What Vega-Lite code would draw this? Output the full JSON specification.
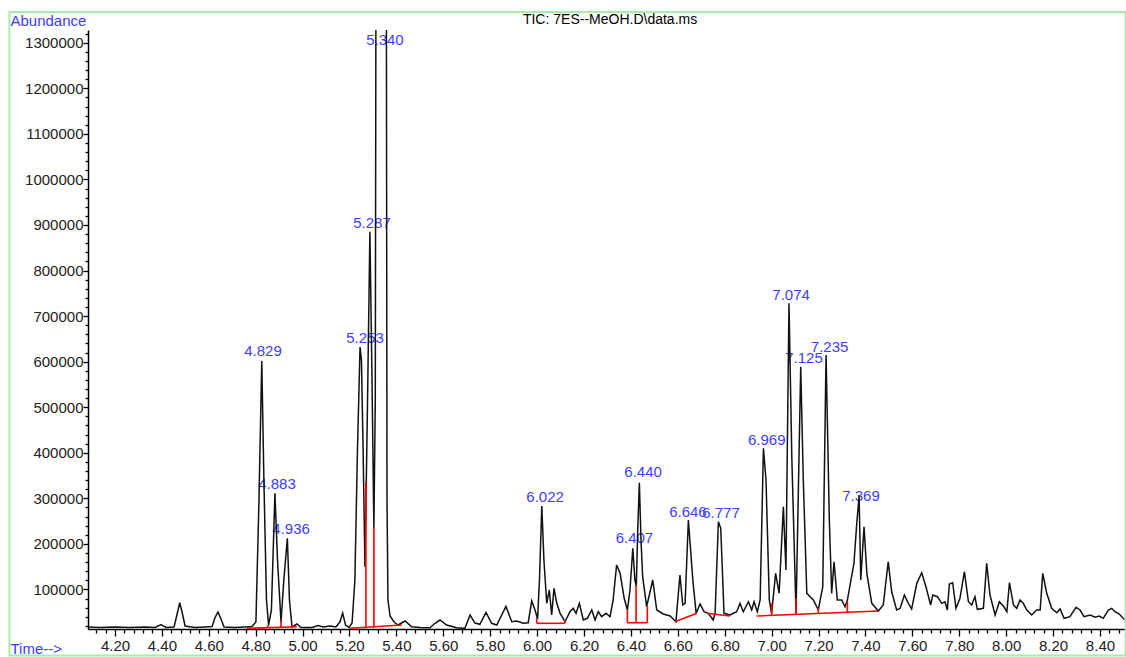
{
  "$schema": "https://vega.github.io/schema/vega-lite/v6.json",
  "autosize": {"type": "none"},
  "width": 1038,
  "height": 599,
  "padding": {"left": 88, "top": 30, "right": 0, "bottom": 28},
  "background": "#ffffff",
  "config": {"view": {"stroke": null}},
  "datasets": {
    "trace": [
      {"t":4.085,"v":17560},{"t":4.136,"v":16460},{"t":4.200,"v":17560},{"t":4.264,"v":16460},{"t":4.328,"v":17560},{"t":4.371,"v":16460},{"t":4.396,"v":23050},{"t":4.417,"v":16460},{"t":4.452,"v":17560},{"t":4.464,"v":43900},{"t":4.476,"v":70900},{"t":4.486,"v":50500},{"t":4.499,"v":19760},{"t":4.541,"v":16460},{"t":4.584,"v":17560},{"t":4.614,"v":18660},{"t":4.626,"v":37300},{"t":4.639,"v":50500},{"t":4.652,"v":35100},{"t":4.665,"v":17560},{"t":4.712,"v":16460},{"t":4.754,"v":17560},{"t":4.784,"v":18660},{"t":4.801,"v":28500},{"t":4.814,"v":296300},{"t":4.826,"v":601400},{"t":4.835,"v":340200},{"t":4.846,"v":76800},{"t":4.855,"v":21950},{"t":4.867,"v":54900},{"t":4.882,"v":311000},{"t":4.893,"v":164600},{"t":4.908,"v":28500},{"t":4.920,"v":120700},{"t":4.935,"v":212300},{"t":4.944,"v":76800},{"t":4.955,"v":17560},{"t":4.976,"v":24150},{"t":4.993,"v":16460},{"t":5.040,"v":16460},{"t":5.066,"v":20850},{"t":5.087,"v":17560},{"t":5.117,"v":19760},{"t":5.142,"v":17560},{"t":5.159,"v":28500},{"t":5.171,"v":48300},{"t":5.183,"v":21950},{"t":5.198,"v":16460},{"t":5.211,"v":26300},{"t":5.223,"v":120700},{"t":5.234,"v":406100},{"t":5.245,"v":632200},{"t":5.251,"v":603600},{"t":5.258,"v":406100},{"t":5.266,"v":149300},{"t":5.277,"v":515800},{"t":5.287,"v":885200},{"t":5.296,"v":559700},{"t":5.304,"v":234900},{"t":5.310,"v":515800},{"t":5.313,"v":1500000},{"t":5.357,"v":1500000},{"t":5.360,"v":296300},{"t":5.364,"v":76800},{"t":5.373,"v":41700},{"t":5.390,"v":28500},{"t":5.407,"v":21950},{"t":5.437,"v":30700},{"t":5.465,"v":18200},{"t":5.501,"v":16460},{"t":5.543,"v":16000},{"t":5.565,"v":25700},{"t":5.586,"v":32900},{"t":5.614,"v":21950},{"t":5.657,"v":16000},{"t":5.692,"v":14700},{"t":5.714,"v":43900},{"t":5.735,"v":26300},{"t":5.756,"v":23500},{"t":5.782,"v":49800},{"t":5.806,"v":25700},{"t":5.828,"v":21950},{"t":5.867,"v":62900},{"t":5.892,"v":29200},{"t":5.913,"v":30700},{"t":5.941,"v":25700},{"t":5.962,"v":27000},{"t":5.977,"v":74600},{"t":5.991,"v":54900},{"t":6.002,"v":35100},{"t":6.010,"v":120700},{"t":6.020,"v":283200},{"t":6.029,"v":164600},{"t":6.041,"v":69600},{"t":6.052,"v":98800},{"t":6.062,"v":43900},{"t":6.072,"v":102500},{"t":6.084,"v":69600},{"t":6.098,"v":47600},{"t":6.119,"v":29200},{"t":6.140,"v":51100},{"t":6.154,"v":58600},{"t":6.166,"v":47600},{"t":6.180,"v":69600},{"t":6.197,"v":32900},{"t":6.214,"v":36700},{"t":6.233,"v":54900},{"t":6.247,"v":32900},{"t":6.261,"v":51100},{"t":6.275,"v":40200},{"t":6.294,"v":47600},{"t":6.311,"v":40200},{"t":6.324,"v":76800},{"t":6.339,"v":153700},{"t":6.354,"v":135400},{"t":6.371,"v":81200},{"t":6.385,"v":54900},{"t":6.396,"v":98800},{"t":6.408,"v":190300},{"t":6.417,"v":120700},{"t":6.423,"v":107600},{"t":6.429,"v":230500},{"t":6.436,"v":334300},{"t":6.443,"v":208500},{"t":6.450,"v":128000},{"t":6.467,"v":62100},{"t":6.493,"v":120700},{"t":6.510,"v":54900},{"t":6.538,"v":46100},{"t":6.567,"v":41700},{"t":6.592,"v":29200},{"t":6.609,"v":131700},{"t":6.621,"v":65900},{"t":6.631,"v":69600},{"t":6.645,"v":252400},{"t":6.664,"v":120700},{"t":6.678,"v":47600},{"t":6.695,"v":68000},{"t":6.712,"v":51100},{"t":6.730,"v":47600},{"t":6.751,"v":32900},{"t":6.759,"v":47600},{"t":6.773,"v":248700},{"t":6.783,"v":234200},{"t":6.797,"v":47600},{"t":6.823,"v":43900},{"t":6.851,"v":51100},{"t":6.865,"v":69600},{"t":6.879,"v":51100},{"t":6.901,"v":73100},{"t":6.915,"v":54900},{"t":6.925,"v":73100},{"t":6.939,"v":51100},{"t":6.951,"v":76800},{"t":6.965,"v":409800},{"t":6.976,"v":340200},{"t":6.990,"v":76800},{"t":7.000,"v":47600},{"t":7.017,"v":135400},{"t":7.032,"v":91500},{"t":7.050,"v":281600},{"t":7.061,"v":142700},{"t":7.074,"v":728100},{"t":7.086,"v":391400},{"t":7.104,"v":47600},{"t":7.124,"v":588900},{"t":7.135,"v":340200},{"t":7.150,"v":91500},{"t":7.164,"v":84100},{"t":7.178,"v":76800},{"t":7.199,"v":54900},{"t":7.218,"v":106000},{"t":7.232,"v":614600},{"t":7.246,"v":252400},{"t":7.256,"v":91500},{"t":7.266,"v":160900},{"t":7.280,"v":76800},{"t":7.299,"v":76800},{"t":7.313,"v":62100},{"t":7.323,"v":76800},{"t":7.337,"v":117000},{"t":7.351,"v":157400},{"t":7.363,"v":245200},{"t":7.373,"v":305100},{"t":7.380,"v":120700},{"t":7.394,"v":237700},{"t":7.406,"v":135400},{"t":7.427,"v":69600},{"t":7.455,"v":52700},{"t":7.476,"v":65900},{"t":7.497,"v":160900},{"t":7.512,"v":95000},{"t":7.533,"v":54900},{"t":7.548,"v":58600},{"t":7.566,"v":87800},{"t":7.583,"v":69600},{"t":7.597,"v":57100},{"t":7.619,"v":113500},{"t":7.640,"v":136700},{"t":7.658,"v":106000},{"t":7.678,"v":65900},{"t":7.687,"v":87800},{"t":7.707,"v":84100},{"t":7.725,"v":69600},{"t":7.739,"v":73100},{"t":7.749,"v":54900},{"t":7.758,"v":111900},{"t":7.772,"v":114800},{"t":7.786,"v":58600},{"t":7.803,"v":80600},{"t":7.822,"v":138900},{"t":7.839,"v":73100},{"t":7.853,"v":65900},{"t":7.867,"v":84100},{"t":7.877,"v":56400},{"t":7.903,"v":58600},{"t":7.917,"v":157400},{"t":7.931,"v":87800},{"t":7.953,"v":43900},{"t":7.971,"v":73100},{"t":7.988,"v":63700},{"t":8.003,"v":51100},{"t":8.014,"v":114800},{"t":8.031,"v":65900},{"t":8.045,"v":58600},{"t":8.059,"v":76800},{"t":8.073,"v":69600},{"t":8.088,"v":54900},{"t":8.109,"v":43900},{"t":8.130,"v":54900},{"t":8.145,"v":54900},{"t":8.156,"v":135400},{"t":8.173,"v":91500},{"t":8.194,"v":58600},{"t":8.216,"v":48900},{"t":8.230,"v":57100},{"t":8.247,"v":36700},{"t":8.272,"v":40200},{"t":8.298,"v":60800},{"t":8.315,"v":54900},{"t":8.332,"v":40200},{"t":8.358,"v":43900},{"t":8.379,"v":38900},{"t":8.397,"v":41700},{"t":8.414,"v":36700},{"t":8.436,"v":54900},{"t":8.450,"v":58600},{"t":8.464,"v":51100},{"t":8.482,"v":46100},{"t":8.499,"v":36700},{"t":8.511,"v":31400}
    ],
    "labels": [
      {"label":"4.829","t":4.831,"v":623400},
      {"label":"4.883","t":4.891,"v":331400},
      {"label":"4.936","t":4.951,"v":232700},
      {"label":"5.253","t":5.266,"v":651900},
      {"label":"5.287","t":5.296,"v":904300},
      {"label":"5.340","t":5.351,"v":1306000},
      {"label":"6.022","t":6.034,"v":303600},
      {"label":"6.407","t":6.415,"v":212900},
      {"label":"6.440","t":6.452,"v":357800},
      {"label":"6.646","t":6.643,"v":270600},
      {"label":"6.777","t":6.784,"v":267100},
      {"label":"6.969","t":6.979,"v":428000},
      {"label":"7.074","t":7.083,"v":746300},
      {"label":"7.125","t":7.138,"v":607400},
      {"label":"7.235","t":7.247,"v":632800},
      {"label":"7.369","t":7.381,"v":305100}
    ],
    "integ": [
      {"t":4.762,"v":14700,"t2":4.975,"v2":18200},
      {"t":4.852,"v":15400,"t2":4.852,"v2":21950},
      {"t":4.908,"v":17600,"t2":4.908,"v2":32900},
      {"t":5.202,"v":14700,"t2":5.423,"v2":21950},
      {"t":5.270,"v":15100,"t2":5.270,"v2":335800},
      {"t":5.304,"v":15800,"t2":5.304,"v2":234900},
      {"t":5.998,"v":36700,"t2":5.998,"v2":25700},
      {"t":5.998,"v":25700,"t2":6.119,"v2":25700},
      {"t":6.119,"v":25700,"t2":6.119,"v2":32900},
      {"t":6.385,"v":54900,"t2":6.385,"v2":27000},
      {"t":6.385,"v":27000,"t2":6.470,"v2":27000},
      {"t":6.470,"v":27000,"t2":6.470,"v2":62100},
      {"t":6.422,"v":27000,"t2":6.422,"v2":109750},
      {"t":6.588,"v":29200,"t2":6.681,"v2":47600},
      {"t":6.723,"v":47600,"t2":6.823,"v2":41700},
      {"t":6.936,"v":41700,"t2":7.455,"v2":52700},
      {"t":7.000,"v":43000,"t2":7.000,"v2":70200},
      {"t":7.104,"v":45200,"t2":7.104,"v2":81200},
      {"t":7.199,"v":47200,"t2":7.199,"v2":59300},
      {"t":7.323,"v":49800,"t2":7.323,"v2":73100}
    ]
  },
  "layer": [
    {
      "data": {"name": "labels"},
      "mark": {"type": "text", "font": "Liberation Sans", "fontSize": 15, "color": "#3d3dff", "align": "center", "baseline": "middle"},
      "encoding": {
        "x": {"field": "t", "type": "quantitative"},
        "y": {"field": "v", "type": "quantitative"},
        "text": {"field": "label"}
      }
    },
    {
      "data": {"name": "trace"},
      "mark": {"type": "line", "color": "#111111", "strokeWidth": 1.5, "clip": true, "interpolate": "linear"},
      "encoding": {
        "x": {
          "field": "t", "type": "quantitative",
          "scale": {"domain": [4.085, 8.511], "nice": false, "zero": false},
          "axis": {
            "values": [4.12,4.16,4.2,4.24,4.28,4.32,4.36,4.4,4.44,4.48,4.52,4.56,4.6,4.64,4.68,4.72,4.76,4.8,4.84,4.88,4.92,4.96,5,5.04,5.08,5.12,5.16,5.2,5.24,5.28,5.32,5.36,5.4,5.44,5.48,5.52,5.56,5.6,5.64,5.68,5.72,5.76,5.8,5.84,5.88,5.92,5.96,6,6.04,6.08,6.12,6.16,6.2,6.24,6.28,6.32,6.36,6.4,6.44,6.48,6.52,6.56,6.6,6.64,6.68,6.72,6.76,6.8,6.84,6.88,6.92,6.96,7,7.04,7.08,7.12,7.16,7.2,7.24,7.28,7.32,7.36,7.4,7.44,7.48,7.52,7.56,7.6,7.64,7.68,7.72,7.76,7.8,7.84,7.88,7.92,7.96,8,8.04,8.08,8.12,8.16,8.2,8.24,8.28,8.32,8.36,8.4,8.44,8.48],
            "tickCount": 500,
            "labelExpr": "abs(datum.value*5 - round(datum.value*5)) < 0.001 ? format(datum.value, '.2f') : ''",
            "labelOverlap": false, "labelFlush": false,
            "labelFont": "Liberation Sans", "labelFontSize": 15, "labelColor": "#222222", "labelPadding": 2,
            "tickSize": {"condition": {"test": "abs(datum.value*5 - round(datum.value*5)) < 0.001", "value": 7}, "value": 4},
            "tickColor": "#000000", "tickWidth": 1.3,
            "domainColor": "#000000", "domainWidth": 1.5,
            "grid": false,
            "title": "Time-->", "titleColor": "#3d3dff", "titleFont": "Liberation Sans", "titleFontSize": 15, "titleFontWeight": "normal",
            "titleX": -78, "titleY": 19, "titleAlign": "left", "titleBaseline": "middle", "titleAngle": 0
          }
        },
        "y": {
          "field": "v", "type": "quantitative",
          "scale": {"domain": [13200, 1328000], "nice": false, "zero": false},
          "axis": {
            "values": [20000,40000,60000,80000,100000,120000,140000,160000,180000,200000,220000,240000,260000,280000,300000,320000,340000,360000,380000,400000,420000,440000,460000,480000,500000,520000,540000,560000,580000,600000,620000,640000,660000,680000,700000,720000,740000,760000,780000,800000,820000,840000,860000,880000,900000,920000,940000,960000,980000,1000000,1020000,1040000,1060000,1080000,1100000,1120000,1140000,1160000,1180000,1200000,1220000,1240000,1260000,1280000,1300000,1320000],
            "tickCount": 500,
            "labelExpr": "datum.value % 100000 === 0 ? format(datum.value, 'd') : ''",
            "labelOverlap": false, "labelFlush": false,
            "labelFont": "Liberation Sans", "labelFontSize": 15, "labelColor": "#222222", "labelPadding": 0,
            "tickSize": {"condition": {"test": "datum.value % 100000 === 0", "value": 5}, "value": 3},
            "tickColor": "#000000", "tickWidth": 1.3,
            "domainColor": "#000000", "domainWidth": 1.5,
            "grid": false,
            "title": "Abundance", "titleColor": "#3d3dff", "titleFont": "Liberation Sans", "titleFontSize": 15, "titleFontWeight": "normal",
            "titleX": -78, "titleY": -10, "titleAlign": "left", "titleBaseline": "middle", "titleAngle": 0
          }
        }
      }
    },
    {
      "data": {"values": [{}]},
      "mark": {"type": "rect", "fill": null, "stroke": "#a6eea6", "strokeWidth": 2, "clip": false},
      "encoding": {
        "x": {"datum": 3.75, "type": "quantitative"},
        "x2": {"datum": 8.509},
        "y": {"datum": 1367500, "type": "quantitative"},
        "y2": {"datum": -45000}
      }
    },
    {
      "data": {"values": [{"title": "TIC: 7ES--MeOH.D\\data.ms"}]},
      "mark": {"type": "text", "font": "Liberation Sans", "fontSize": 14, "color": "#000000", "align": "center", "baseline": "middle", "clip": false},
      "encoding": {
        "x": {"datum": 6.311, "type": "quantitative"},
        "y": {"datum": 1349900, "type": "quantitative"},
        "text": {"field": "title"}
      }
    },
    {
      "data": {"name": "integ"},
      "mark": {"type": "rule", "color": "#ff0000", "strokeWidth": 1.6},
      "encoding": {
        "x": {"field": "t", "type": "quantitative"},
        "y": {"field": "v", "type": "quantitative"},
        "x2": {"field": "t2"},
        "y2": {"field": "v2"}
      }
    }
  ]
}
